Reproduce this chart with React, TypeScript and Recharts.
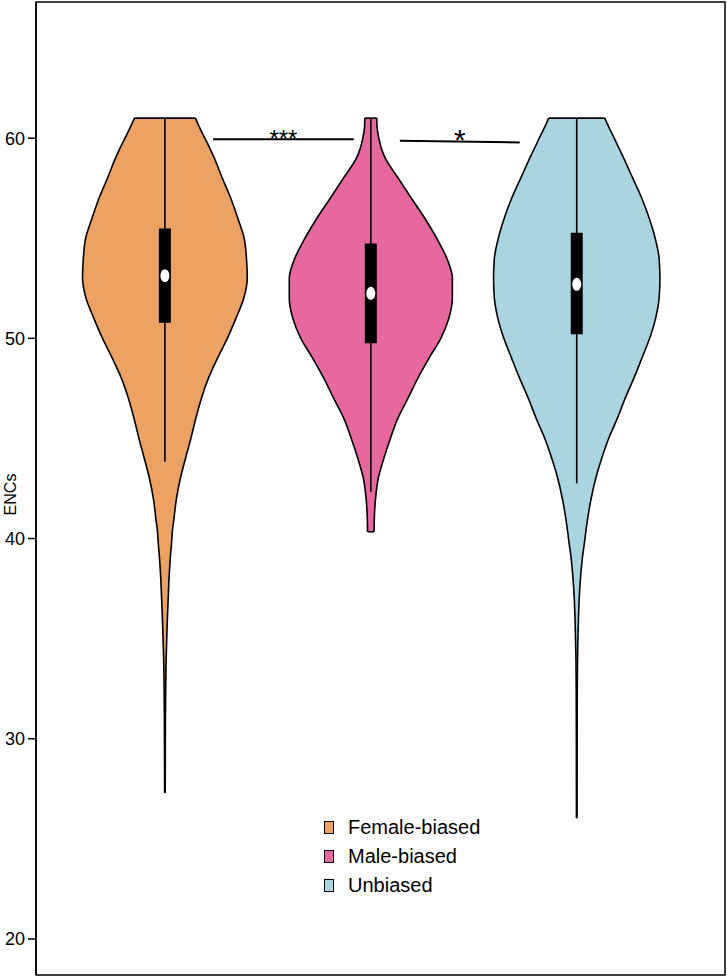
import React from 'react';
import {
  ComposedChart,
  Area,
  Line,
  XAxis,
  YAxis,
  ReferenceLine,
  ReferenceArea,
  ReferenceDot,
  Legend,
} from 'recharts';

const FONT = '"Liberation Sans", Arial, Helvetica, sans-serif';

// Groups
const groups = ['Female-biased', 'Male-biased', 'Unbiased'];
const groupKeys = ['female', 'male', 'unbiased'];
const groupPositions = [1, 2, 3];
const groupColors = ['#EBA262', '#E7689F', '#A9D4E0'];

// Violin outlines: shared ENC levels and half-width of each density (x-axis units)
const encLevels = [61, 60.5, 60, 59.5, 59, 58, 57, 56, 55, 54, 53, 52, 51, 50, 49, 48, 47, 46, 45, 44, 43, 42, 41, 40.34, 40, 39, 38, 37, 36, 35, 34, 33, 32, 31, 30, 29, 28, 27.3, 26.04];

const femaleHalfWidth = [0.148, 0.17, 0.194, 0.218, 0.24, 0.279, 0.32, 0.354, 0.385, 0.396, 0.4, 0.383, 0.345, 0.303, 0.255, 0.211, 0.177, 0.15, 0.126, 0.1, 0.075, 0.056, 0.044, 0.036, 0.034, 0.026, 0.02, 0.016, 0.012, 0.009, 0.006, 0.0044, 0.0034, 0.0024, 0.0022, 0.0019, 0.0017, 0.0015, null];

const maleHalfWidth = [0.029, 0.031, 0.039, 0.051, 0.07, 0.133, 0.197, 0.262, 0.32, 0.369, 0.396, 0.396, 0.379, 0.34, 0.282, 0.228, 0.18, 0.131, 0.095, 0.063, 0.036, 0.023, 0.017, 0.016, null, null, null, null, null, null, null, null, null, null, null, null, null, null, null];

const unbiasedHalfWidth = [0.136, 0.158, 0.182, 0.205, 0.228, 0.272, 0.316, 0.352, 0.381, 0.4, 0.404, 0.4, 0.383, 0.354, 0.316, 0.277, 0.235, 0.197, 0.155, 0.121, 0.092, 0.07, 0.053, 0.044, 0.04, 0.027, 0.018, 0.012, 0.0083, 0.0058, 0.0039, 0.0029, 0.0024, 0.0022, 0.0019, 0.0018, 0.0017, 0.0016, 0.0015];

// Box plot statistics
const whiskerLow = [43.84, 42.34, 42.76];
const whiskerHigh = [61.0, 61.0, 61.0];
const q1 = [50.78, 49.75, 50.2];
const q3 = [55.49, 54.74, 55.27];
const medians = [53.13, 52.25, 52.7];

// Axis
const yTicks = [20, 30, 40, 50, 60];
const yDomain = [18.2, 66.8];
const xDomain = [0.374, 3.72];

// Significance annotations
const sigLabels = ['***', '*'];
const sigX1 = [1.234, 2.141];
const sigX2 = [1.917, 2.723];
const sigY1 = [59.95, 59.865];
const sigY2 = [59.95, 59.785];
const sigTextY = [59.55, 59.39];
const sigFontSize = [24, 30];

const halfWidth = [femaleHalfWidth, maleHalfWidth, unbiasedHalfWidth];

// Table: one row per ENC level; each group holds its [left, right] range
const tableData = encLevels.map((e, j) => {
  const row: any = { enc: e };
  groupKeys.forEach((k, gi) => {
    const w = halfWidth[gi][j];
    if (w !== null) {
      row[k] = [groupPositions[gi] - w, groupPositions[gi] + w];
      row[k + 'L'] = groupPositions[gi] - w;
      row[k + 'R'] = groupPositions[gi] + w;
    }
  });
  return row;
});

const lastIndex = halfWidth.map((arr) => {
  let idx = 0;
  arr.forEach((w, j) => {
    if (w !== null) idx = j;
  });
  return idx;
});

const renderLegend = () => (
  <div style={{ fontFamily: FONT, fontSize: 20, color: '#000' }}>
    {groups.map((g, i) => (
      <div key={g} style={{ display: 'flex', alignItems: 'center', height: 29 }}>
        <span
          style={{
            display: 'inline-block',
            width: 8,
            height: 11,
            background: groupColors[i],
            border: '1px solid #000',
            marginRight: 14,
          }}
        />
        <span>{g}</span>
      </div>
    ))}
  </div>
);

export default function App() {
  return (
    <div style={{ position: 'absolute', left: 0, top: 0, background: '#fff' }}>
      <ComposedChart
        width={727}
        height={977}
        data={tableData}
        layout="vertical"
        margin={{ top: 2, right: 2, bottom: 2, left: 0 }}
      >
        <XAxis type="number" domain={xDomain} allowDataOverflow hide />
        <YAxis
          type="number"
          dataKey="enc"
          domain={yDomain}
          ticks={yTicks}
          reversed
          allowDataOverflow
          width={36}
          tickSize={8}
          tickMargin={3}
          axisLine={{ stroke: '#000', strokeWidth: 1.5 }}
          tickLine={{ stroke: '#000', strokeWidth: 1.5 }}
          tick={{ fill: '#000', fontSize: 18, fontFamily: FONT }}
          label={{
            value: 'ENCs',
            content: (p: any) => {
              const vb = p.viewBox || { y: 2, height: 973 };
              const cy = vb.y + vb.height / 2 + 6;
              return (
                <text
                  x={16}
                  y={cy}
                  transform={`rotate(-90, 16, ${cy})`}
                  textAnchor="middle"
                  fontSize={16}
                  fontFamily={FONT}
                  fill="#000"
                >
                  ENCs
                </text>
              );
            },
          }}
        />
        <ReferenceArea
          x1={xDomain[0]}
          x2={xDomain[1]}
          y1={yDomain[0]}
          y2={yDomain[1]}
          fill="none"
          stroke="#000"
          strokeWidth={1.5}
          ifOverflow="visible"
        />
        {groupKeys.map((k, i) => (
          <Area
            key={k}
            dataKey={k}
            name={groups[i]}
            type="monotone"
            fill={groupColors[i]}
            fillOpacity={1}
            stroke="none"
            connectNulls={false}
            dot={false}
            activeDot={false}
            isAnimationActive={false}
          />
        ))}
        {groupKeys.map((k) => (
          <Line
            key={k + 'L'}
            dataKey={k + 'L'}
            type="monotone"
            stroke="#000"
            strokeWidth={1.6}
            dot={false}
            activeDot={false}
            connectNulls={false}
            legendType="none"
            isAnimationActive={false}
          />
        ))}
        {groupKeys.map((k) => (
          <Line
            key={k + 'R'}
            dataKey={k + 'R'}
            type="monotone"
            stroke="#000"
            strokeWidth={1.6}
            dot={false}
            activeDot={false}
            connectNulls={false}
            legendType="none"
            isAnimationActive={false}
          />
        ))}
        {groupKeys.map((k, i) => (
          <ReferenceLine
            key={'top-' + k}
            segment={[
              { x: groupPositions[i] - (halfWidth[i][0] as number), y: encLevels[0] },
              { x: groupPositions[i] + (halfWidth[i][0] as number), y: encLevels[0] },
            ]}
            stroke="#000"
            strokeWidth={1.6}
          />
        ))}
        {groupKeys.map((k, i) => {
          const li = lastIndex[i];
          const w = halfWidth[i][li] as number;
          return (
            <ReferenceLine
              key={'bot-' + k}
              segment={[
                { x: groupPositions[i] - w, y: encLevels[li] },
                { x: groupPositions[i] + w, y: encLevels[li] },
              ]}
              stroke="#000"
              strokeWidth={1.6}
            />
          );
        })}
        {groupKeys.map((k, i) => (
          <ReferenceLine
            key={'wh-' + k}
            segment={[
              { x: groupPositions[i], y: whiskerLow[i] },
              { x: groupPositions[i], y: whiskerHigh[i] },
            ]}
            stroke="#000"
            strokeWidth={1.6}
          />
        ))}
        {groupKeys.map((k, i) => (
          <ReferenceLine
            key={'box-' + k}
            segment={[
              { x: groupPositions[i], y: q1[i] },
              { x: groupPositions[i], y: q3[i] },
            ]}
            stroke="#000"
            strokeWidth={12}
            strokeLinecap="butt"
          />
        ))}
        {groupKeys.map((k, i) => (
          <ReferenceDot
            key={'med-' + k}
            x={groupPositions[i]}
            y={medians[i]}
            r={5}
            shape={(p: any) => <ellipse cx={p.cx} cy={p.cy} rx={4.5} ry={6.5} fill="#fff" stroke="none" />}
          />
        ))}
        {sigLabels.map((s, i) => (
          <ReferenceLine
            key={'sig-' + i}
            segment={[
              { x: sigX1[i], y: sigY1[i] },
              { x: sigX2[i], y: sigY2[i] },
            ]}
            stroke="#000"
            strokeWidth={2}
          />
        ))}
        {sigLabels.map((s, i) => (
          <ReferenceDot
            key={'sigt-' + i}
            x={(sigX1[i] + sigX2[i]) / 2}
            y={sigTextY[i]}
            r={1}
            shape={(p: any) => (
              <text x={p.cx} y={p.cy} textAnchor="middle" fontSize={sigFontSize[i]} fontFamily={FONT} fill="#000">
                {s}
              </text>
            )}
          />
        ))}
        <Legend
          layout="vertical"
          align="center"
          verticalAlign="middle"
          content={renderLegend}
          wrapperStyle={{ left: 324, top: 813, width: 220 }}
        />
      </ComposedChart>
    </div>
  );
}
